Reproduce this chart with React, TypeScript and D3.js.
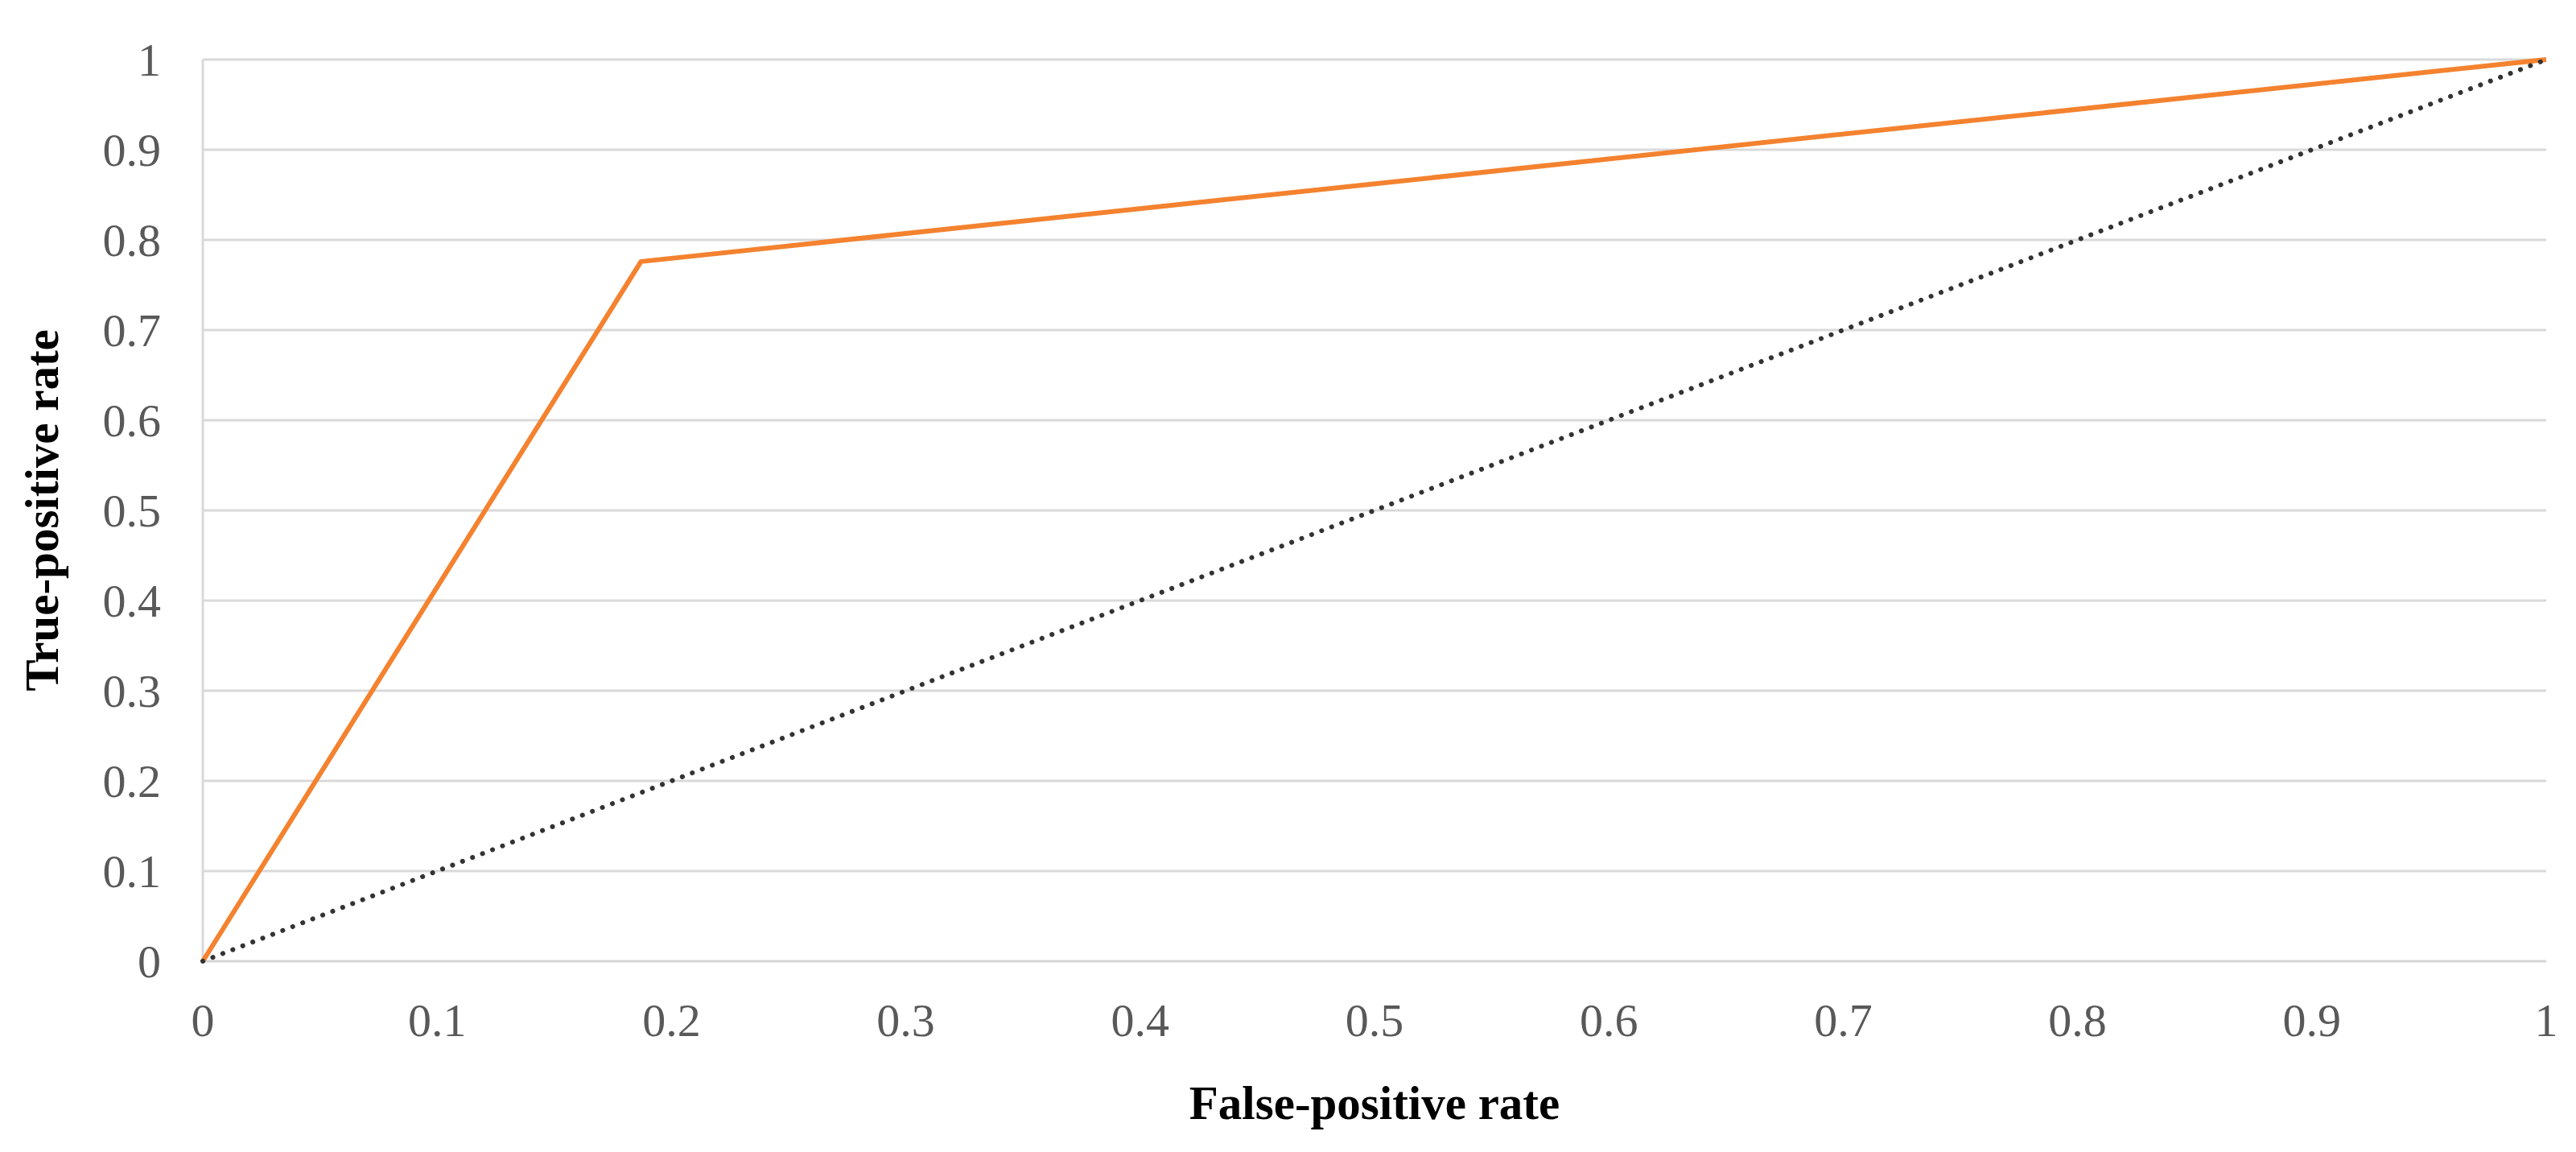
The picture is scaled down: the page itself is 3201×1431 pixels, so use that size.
import React, { useEffect } from "react";
import * as d3 from "d3";

const fprValues = [0, 0.187, 1];
const tprValues = [0, 0.776, 1];
const chanceFpr = [0, 1];
const chanceTpr = [0, 1];
const xTicks = [0, 0.1, 0.2, 0.3, 0.4, 0.5, 0.6, 0.7, 0.8, 0.9, 1];
const yTicks = [0, 0.1, 0.2, 0.3, 0.4, 0.5, 0.6, 0.7, 0.8, 0.9, 1];
const xTitle = "False-positive rate";
const yTitle = "True-positive rate";

const W = 3201;
const H = 1431;
const M = { left: 252, right: 3164, top: 74, bottom: 1194 };

export default function App() {
  useEffect(() => {
    document.body.style.margin = "0";
  }, []);

  const x = d3.scaleLinear().domain([0, 1]).range([M.left, M.right]);
  const y = d3.scaleLinear().domain([0, 1]).range([M.bottom, M.top]);

  const line = d3
    .line<[number, number]>()
    .x((d) => x(d[0]))
    .y((d) => y(d[1]));

  const roc = fprValues.map((f, i) => [f, tprValues[i]] as [number, number]);
  const chance = chanceFpr.map((f, i) => [f, chanceTpr[i]] as [number, number]);
  const fmt = (v: number) => (v === 0 || v === 1 ? String(v) : d3.format(".1f")(v));
  const serif = "'Liberation Serif', 'Times New Roman', serif";

  return (
    <svg width={W} height={H} style={{ display: "block", background: "#fff" }}>
      {yTicks
        .filter((t) => t > 0)
        .map((t) => (
          <line key={"g" + t} x1={M.left} x2={M.right} y1={y(t)} y2={y(t)} stroke="#d9d9d9" strokeWidth={3} />
        ))}
      <line x1={M.left} x2={M.left} y1={M.top} y2={M.bottom} stroke="#d9d9d9" strokeWidth={3} />
      <line x1={M.left} x2={M.right} y1={M.bottom} y2={M.bottom} stroke="#d4d4d4" strokeWidth={3} />

      {yTicks.map((t) => (
        <text
          key={"y" + t}
          x={200}
          y={y(t)}
          dy="0.35em"
          textAnchor="end"
          fontFamily={serif}
          fontSize={58}
          fill="#595959"
        >
          {fmt(t)}
        </text>
      ))}
      {xTicks.map((t) => (
        <text
          key={"x" + t}
          x={x(t)}
          y={1287}
          textAnchor="middle"
          fontFamily={serif}
          fontSize={58}
          fill="#595959"
        >
          {fmt(t)}
        </text>
      ))}

      <path d={line(roc) || ""} fill="none" stroke="#F4822F" strokeWidth={6} strokeLinejoin="round" />
      <path
        d={line(chance) || ""}
        fill="none"
        stroke="#333333"
        strokeWidth={6}
        strokeDasharray="0.1 13.2"
        strokeLinecap="round"
      />

      <text
        x={(M.left + M.right) / 2}
        y={1390}
        textAnchor="middle"
        fontFamily={serif}
        fontWeight="bold"
        fontSize={59}
        fill="#000"
      >
        {xTitle}
      </text>
      <text
        transform={`translate(72, ${(M.top + M.bottom) / 2}) rotate(-90)`}
        textAnchor="middle"
        fontFamily={serif}
        fontWeight="bold"
        fontSize={59}
        fill="#000"
      >
        {yTitle}
      </text>
    </svg>
  );
}
